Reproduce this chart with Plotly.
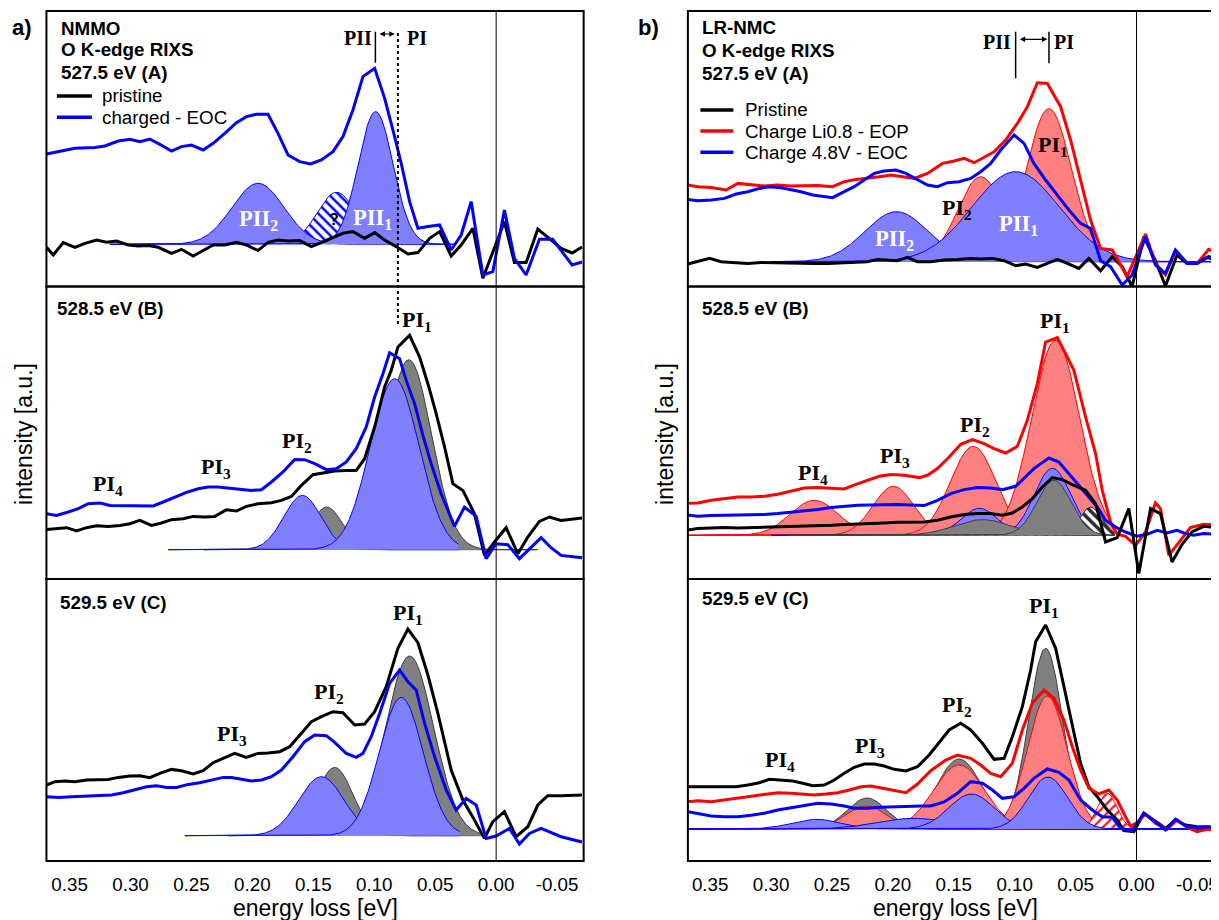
import numpy as np
import plotly.graph_objects as go

# the page body adds an 8px margin; the figure is sized and offset to compensate
OFF = 8
W, H = 1219 - OFF, 920 - OFF
SANS = "Liberation Sans, Arial, sans-serif"
SERIF = "Liberation Serif, Times New Roman, serif"

# ---------------- data: energy loss [eV] and intensity [a.u.] ----------------
# Panel a (NMMO), 527.5 eV (A)
a1_pristine_e = [0.3689,0.3634,0.3552,0.3456,0.3374,0.3279,0.3197,0.3115,0.3019,0.2937,0.2855,0.2773,0.2664,0.2582,0.2486,0.2404,0.2322,0.2227,0.2131,0.2049,0.1954,0.1872,0.1790,0.1708,0.1612,0.1516,0.1434,0.1352,0.1257,0.1175,0.1079,0.0997,0.0915,0.0820,0.0724,0.0642,0.0546,0.0464,0.0369,0.0287,0.0191,0.0109,-0.0068,-0.0150,-0.0246,-0.0342,-0.0437,-0.0533,-0.0623,-0.0705]
a1_pristine_i = [-3,-10.7,1.7,-3,1,4.3,2,3.3,-0.7,-1.7,-1.3,-3,-9,-5,-11.7,-6.3,-0.7,-0.7,2,-0.7,-6.3,2,4.3,3.3,3.7,-2.3,2,6.7,11,12.7,6,11.7,4.3,-2.3,-9.7,-8.3,6,12.7,-11.7,-0.7,16,-34,22.7,-18.3,-18.3,15.3,6,-4,-8.7,-2.7]
a1_charged_e = [0.3689,0.3593,0.3456,0.3292,0.3210,0.3101,0.3005,0.2923,0.2842,0.2760,0.2664,0.2582,0.2500,0.2404,0.2322,0.2227,0.2131,0.2049,0.1967,0.1872,0.1790,0.1708,0.1612,0.1522,0.1434,0.1339,0.1257,0.1175,0.1093,0.0997,0.0915,0.0833,0.0779,0.0710,0.0642,0.0560,0.0464,0.0369,0.0287,0.0205,0.0109,0.0027,-0.0068,-0.0150,-0.0246,-0.0355,-0.0464,-0.0623,-0.0705]
a1_charged_i = [90.3,92.7,96,96.7,98.3,103.3,105,102.7,105.3,100,93.3,97.7,99.3,94.3,101,111,121.7,127.7,130,130,111,89.3,82.7,80.3,84.3,92.7,107.7,134.3,167.7,176,146,107.7,81,42.7,16,17.7,19.3,-5.7,9.3,42.7,-30.7,-27.3,34.3,-14,-30.7,5,5,-20.7,-17.7]
# fit components: (centre, height, sigma)
a1_fits = {"PII?": (0.131, 52, 0.016), "PII2": (0.1954, 61, 0.0213), "PII1": (0.0989, 132.7, 0.0143)}
a1_fit_range = (0.317, 0.034)

# Panel a, 528.5 eV (B)
a2_pristine_e = [0.3689,0.3607,0.3525,0.3443,0.3361,0.3279,0.3183,0.3087,0.3005,0.2923,0.2828,0.2746,0.2664,0.2568,0.2486,0.2391,0.2309,0.2213,0.2131,0.2049,0.1954,0.1844,0.1762,0.1680,0.1598,0.1503,0.1407,0.1325,0.1230,0.1148,0.1079,0.0997,0.0915,0.0861,0.0806,0.0710,0.0628,0.0560,0.0492,0.0423,0.0355,0.0273,0.0178,0.0096,0.0014,-0.0082,-0.0178,-0.0260,-0.0355,-0.0437,-0.0533,-0.0705]
a2_pristine_i = [20.3,21,22,18.7,22,24,23.3,24.3,26,29.3,24.3,26.7,30,31,33.3,32.7,33.3,40,38.7,43.3,46,47,49.3,53.3,64.3,75,76.7,78.7,79.3,79.3,91,122.7,162.7,179.3,202.7,214.3,192.7,166,136,102.7,66,59.3,36,-5.7,7.7,22,-4,12.7,28.3,32.7,29.3,31.7]
a2_charged_e = [0.3689,0.3607,0.3511,0.3429,0.3347,0.3251,0.3169,0.3074,0.2992,0.2896,0.2814,0.2732,0.2637,0.2541,0.2445,0.2363,0.2281,0.2186,0.2090,0.2008,0.1926,0.1844,0.1749,0.1653,0.1571,0.1489,0.1393,0.1311,0.1230,0.1148,0.1066,0.0997,0.0929,0.0874,0.0792,0.0738,0.0669,0.0601,0.0533,0.0451,0.0342,0.0260,0.0164,0.0082,0,-0.0096,-0.0191,-0.0273,-0.0369,-0.0451,-0.0533,-0.0705]
a2_charged_i = [36,34.3,37.7,41,46,46.7,44.3,44,43.7,43.3,43.7,47.7,52.7,57.3,61,62.7,62.7,61.7,60.3,59.3,60,67.7,77.7,90.3,90,86,80,81,87.7,101,122.7,152.7,176,197,191,169.3,146,114.3,86,56,23.3,42.7,33.3,-9,6,5,-9,1,12,2,-5.7,-8]
a2_fits_pristine = {"PI2": (0.139, 42.7, 0.013), "PI1": (0.0716, 190, 0.0186)}
a2_fits_charged = {"PI2": (0.159, 54.3, 0.0153), "PI1": (0.0833, 171, 0.020)}
a2_range_pristine = (0.24, -0.034)
a2_range_charged = (0.269, 0.031)

# Panel a, 529.5 eV (C)
a3_pristine_e = [0.3689,0.3620,0.3538,0.3456,0.3361,0.3279,0.3183,0.3101,0.3005,0.2923,0.2842,0.2760,0.2664,0.2582,0.2486,0.2404,0.2322,0.2227,0.2145,0.2049,0.1954,0.1872,0.1776,0.1694,0.1612,0.1516,0.1434,0.1339,0.1257,0.1161,0.1079,0.0997,0.0902,0.0806,0.0724,0.0642,0.0560,0.0478,0.0369,0.0273,0.0178,0.0096,0.0027,-0.0068,-0.0164,-0.0260,-0.0342,-0.0423,-0.0533,-0.0705]
a3_pristine_i = [50.7,54,54.7,54,55.7,55.7,56.3,58.3,59.7,60,58,62.3,66.3,65,61.7,65,73,78,82.3,78.3,82.3,82.7,84,89,100.7,114,119,124,123,110.7,111.7,124,149,187.3,206.7,193,160.7,122.3,65.7,35.7,15.7,-2.7,14,24,-1,9,30.7,40,40,40.7]
a3_charged_e = [0.3689,0.3593,0.3484,0.3374,0.3265,0.3156,0.3060,0.2964,0.2869,0.2787,0.2705,0.2623,0.2527,0.2432,0.2336,0.2240,0.2172,0.2090,0.2008,0.1926,0.1844,0.1762,0.1667,0.1571,0.1489,0.1393,0.1325,0.1230,0.1148,0.1093,0.1025,0.0956,0.0874,0.0792,0.0724,0.0656,0.0587,0.0505,0.0410,0.0328,0.0246,0.0164,0.0082,0,-0.0109,-0.0191,-0.0273,-0.0369,-0.0451,-0.0533,-0.0705]
a3_charged_i = [39,38.3,39,39.7,40.3,40.7,43,46.3,49,50,48.3,48.3,51.3,53,55.7,58.3,58.3,56.7,54.7,55.7,59,65.7,79,94,100.7,100,93.3,82.3,78.3,82.3,99,122.3,152.3,165.7,154,145.7,112.3,79,45.7,25.7,37.3,30.7,-2.7,-0.3,7.3,-8.3,2.3,7.3,3,-1,-6.3]
a3_fits_pristine = {"PI2": (0.1325, 68.3, 0.015), "PI1": (0.071, 179.7, 0.0197)}
a3_fits_charged = {"PI2": (0.1434, 59, 0.0186), "PI1": (0.0779, 138.3, 0.018)}
a3_range_pristine = (0.22, 0.012)
a3_range_charged = (0.2555, 0.03)

# Panel b (LR-NMC), 527.5 eV (A)
b1_pristine_e = [0.3683,0.3601,0.3505,0.3410,0.3301,0.3191,0.3082,0.2973,0.2863,0.2754,0.2645,0.2536,0.2426,0.2317,0.2208,0.2126,0.2044,0.1962,0.1880,0.1798,0.1689,0.1579,0.1470,0.1361,0.1279,0.1183,0.1087,0.0992,0.0910,0.0814,0.0732,0.0650,0.0568,0.0473,0.0391,0.0295,0.0199,0.0117,0.0036,-0.0060,-0.0156,-0.0238,-0.0333,-0.0415,-0.0497,-0.0593,-0.0661]
b1_pristine_i = [-2.3,0,3.3,0,-1,-1.7,-0.7,-1,-1.7,-1.7,-1.7,-1.7,-1,-0.7,0,2.3,1.7,1,4.3,0,0,1.7,2.3,3.3,2.7,3.3,1,-4,-2.3,-5.7,-1.7,2.3,-1.7,-6.7,3.3,-9,5,-5,-25,25,1,-24.3,6.7,-1.7,-1.7,5,3.3]
b1_eop_e = [0.3683,0.3601,0.3492,0.3369,0.3273,0.3164,0.3055,0.2945,0.2836,0.2727,0.2617,0.2495,0.2399,0.2303,0.2208,0.2112,0.2016,0.1921,0.1825,0.1716,0.1593,0.1497,0.1415,0.1333,0.1251,0.1169,0.1074,0.0978,0.0896,0.0814,0.0732,0.0623,0.0541,0.0459,0.0377,0.0295,0.0199,0.0145,0.0077,-0.0074,-0.0156,-0.0238,-0.0320,-0.0415,-0.0497,-0.0593,-0.0661]
b1_eop_i = [76.7,75,74.3,71.7,78.3,76.7,75.7,76.7,75.7,76,76.3,75,80,82.3,83.3,85,86.7,85,83.3,88.3,98.3,100.7,103.3,99,104.3,110,121.7,138.3,155,179,178.3,155,121.7,81.7,41.7,13.3,11.7,0,-15,27.7,-1.7,-13.3,11,-1,-1.7,12.3,9]
b1_eoc_e = [0.3683,0.3601,0.3492,0.3383,0.3287,0.3191,0.3096,0.3014,0.2918,0.2836,0.2754,0.2658,0.2577,0.2495,0.2399,0.2317,0.2235,0.2153,0.2071,0.1975,0.1893,0.1811,0.1716,0.1634,0.1552,0.1456,0.1361,0.1279,0.1197,0.1115,0.1005,0.0923,0.0842,0.0746,0.0650,0.0555,0.0459,0.0377,0.0295,0.0213,0.0117,0.0036,-0.0074,-0.0156,-0.0238,-0.0320,-0.0415,-0.0497,-0.0579,-0.0661]
b1_eoc_i = [62.3,61,61.7,63.3,67.7,70,73.3,75,74,72.3,70,66.7,65.7,64,70,75,81.7,88.3,90.7,91.7,88.3,83.3,76.7,75,79,80,83.3,90,98.3,111.7,126.7,118.3,98.3,81.7,66.7,51.7,38.3,33.3,1,-5,-23.3,-13.3,25,-3.3,-11.7,11.7,-1.7,-1.7,4.3,1]
b1_fits_eop = {"PI2": (0.1279, 85, 0.019), "PI1": (0.0719, 153, 0.0186)}
b1_fits_eoc = {"PII2": (0.197, 50, 0.026), "PII1": (0.0992, 90, 0.036)}
b1_fit_range = (0.30, -0.0661)

# Panel b, 528.5 eV (B)
b2_pristine_e = [0.3683,0.3601,0.3492,0.3383,0.3273,0.3164,0.3055,0.2945,0.2836,0.2727,0.2617,0.2508,0.2399,0.2290,0.2180,0.2071,0.1962,0.1852,0.1743,0.1634,0.1525,0.1415,0.1306,0.1197,0.1101,0.1019,0.0937,0.0855,0.0773,0.0691,0.0609,0.0514,0.0418,0.0336,0.0254,0.0158,0.0063,-0.0019,-0.0115,-0.0197,-0.0292,-0.0374,-0.0456,-0.0552,-0.0661]
b2_pristine_i = [5.3,6.7,7.3,7.7,7.3,7.7,7.7,8,8.3,9,9.7,10,10.7,11,11.7,12.3,13,13.3,13.3,15,18.3,20.7,21.7,21.7,20,22.3,28.3,36.7,48.3,57.7,55.7,50,45,31.7,-6.7,-2.3,26.7,-38.3,26.7,21.7,-26.7,-9,3.3,9,7.7]
b2_eop_e = [0.3683,0.3601,0.3492,0.3383,0.3273,0.3164,0.3055,0.2945,0.2836,0.2727,0.2617,0.2508,0.2399,0.2303,0.2208,0.2112,0.2016,0.1907,0.1784,0.1716,0.1634,0.1538,0.1443,0.1347,0.1251,0.1169,0.1074,0.0978,0.0896,0.0814,0.0746,0.0650,0.0582,0.0514,0.0418,0.0336,0.0281,0.0213,0.0158,0.0090,0.0008,-0.0074,-0.0156,-0.0197,-0.0265,-0.0361,-0.0443,-0.0552,-0.0661]
b2_eop_i = [32,32.3,35,36.7,38.3,38.3,39,41,44.3,47.3,47.7,47,46.3,51,55,59,60.7,60,57.7,60,66.7,78.3,91,95.7,91.7,86.7,82.3,89,115,151.7,193.3,197.7,181.7,165,118.3,81.7,45,13.3,1,-1,-10,3.3,32.3,26.7,-20,-5,7.7,11,10]
b2_eoc_e = [0.3683,0.3601,0.3492,0.3383,0.3273,0.3164,0.3055,0.2945,0.2836,0.2727,0.2617,0.2508,0.2399,0.2290,0.2180,0.2071,0.1962,0.1852,0.1743,0.1634,0.1525,0.1415,0.1306,0.1197,0.1101,0.0992,0.0923,0.0842,0.0773,0.0719,0.0637,0.0568,0.0486,0.0404,0.0322,0.0254,0.0172,0.0090,-0.0005,-0.0087,-0.0169,-0.0251,-0.0333,-0.0402,-0.0470,-0.0552,-0.0661]
b2_eoc_i = [20.3,19,19.7,20,20,20.3,20.7,21.7,23,24.3,25.7,27.7,29,30,30.3,30.7,30.7,30.3,29.7,35,41.7,45.7,47.7,47.3,45.7,49,56.7,66.7,72.7,77.3,73.3,63.3,51.7,40,28.3,15,8.3,3.3,-1,1,5,2.3,5,1.7,0,1.7,1]
b2_fits_eop = {"PI4": (0.2645, 35, 0.0197), "PI3": (0.1995, 49, 0.0168), "PI2": (0.134, 89, 0.0186), "PI1": (0.0664, 195, 0.0197)}
b2_fits_eoc = {"PI2": (0.129, 27, 0.015), "PI1": (0.069, 67, 0.015)}
b2_fits_pristine = {"PI0": (0.0377, 28, 0.009), "PI2": (0.1265, 15.7, 0.023), "PI1": (0.0678, 55, 0.014)}
b2_range_eop = (0.3683, 0.018)
b2_range_eoc = (0.30, 0.018)
b2_range_pristine = (0.286, 0.018)

# Panel b, 529.5 eV (C)
b3_pristine_e = [0.3683,0.3601,0.3492,0.3383,0.3287,0.3191,0.3096,0.3014,0.2918,0.2822,0.2740,0.2658,0.2563,0.2481,0.2399,0.2317,0.2235,0.2153,0.2071,0.1989,0.1893,0.1798,0.1702,0.1620,0.1538,0.1443,0.1361,0.1265,0.1169,0.1087,0.1019,0.0937,0.0869,0.0828,0.0746,0.0664,0.0596,0.0527,0.0459,0.0391,0.0322,0.0240,0.0158,0.0104,0.0022,-0.0060,-0.0142,-0.0238,-0.0320,-0.0402,-0.0497,-0.0579,-0.0661]
b3_pristine_i = [42.3,42.3,42.3,43,42.3,44,46.3,49.7,49,48,45.7,43.3,44,49,55.7,61.7,65,65,63,59.7,58,62.3,74,86.3,99,105.7,99,85.7,69.7,70.7,92.3,122.3,159,187.3,204,180.7,142.3,102.3,65.7,42.3,32.3,19,9,-1.7,-2.7,15.7,9,0.7,9,4,2.3,2.3,1.7]
b3_eop_e = [0.3683,0.3601,0.3492,0.3383,0.3273,0.3164,0.3055,0.2945,0.2836,0.2740,0.2645,0.2549,0.2454,0.2358,0.2262,0.2180,0.2085,0.1989,0.1893,0.1798,0.1689,0.1566,0.1470,0.1361,0.1279,0.1197,0.1115,0.1019,0.0937,0.0855,0.0760,0.0678,0.0596,0.0527,0.0459,0.0391,0.0309,0.0227,0.0158,0.0090,0.0049,-0.0005,-0.0074,-0.0156,-0.0251,-0.0333,-0.0415,-0.0497,-0.0579,-0.0661]
b3_eop_i = [27.3,28.3,27.3,29,30.7,32.3,34.7,36.3,35.7,34.7,34,35,36.3,39,42.3,43,40.7,38.3,36.3,45,58.3,69,74,70.7,64,55.7,52.3,65.7,99,125.7,139,130.7,109,82.3,59,40.7,35,39,29,12.3,3,6.3,15,5.7,-0.3,9,1.7,-2.7,-0.3,-1.7]
b3_eoc_e = [0.3683,0.3601,0.3492,0.3383,0.3273,0.3164,0.3055,0.2945,0.2836,0.2727,0.2617,0.2508,0.2399,0.2317,0.2208,0.2098,0.1989,0.1880,0.1770,0.1689,0.1579,0.1470,0.1361,0.1265,0.1183,0.1101,0.1005,0.0923,0.0842,0.0732,0.0637,0.0555,0.0459,0.0363,0.0281,0.0199,0.0131,0.0036,-0.0060,-0.0142,-0.0238,-0.0320,-0.0415,-0.0497,-0.0579,-0.0661]
b3_eoc_i = [17.3,15.7,13,12.3,12.3,13.7,15.7,19,21.3,24,25.7,25,23,20.7,20.7,21.7,22.3,23,23,23,27,35.7,47.3,45.7,39,30.7,32.3,40.7,50.7,60,56.7,49,29,19,12.3,11.7,0.7,-1.7,15.7,8.3,-1,9.7,2.3,1.7,2.3,0.7]
b3_fits_pristine = {"PI3": (0.2213, 31, 0.0163), "PI2": (0.1456, 70, 0.019), "PI1": (0.0746, 180.7, 0.014)}
b3_fits_eop = {"PI3": (0.222, 23, 0.017), "PI2": (0.1456, 64, 0.021), "PI1": (0.0732, 133, 0.0163), "PI0": (0.024, 35.7, 0.008)}
b3_fits_eoc = {"PI4": (0.263, 9.7, 0.02), "PI3": (0.1825, 10.7, 0.03), "PI2": (0.1355, 35, 0.0186), "PI1": (0.0727, 52, 0.016)}
b3_fit_range = (0.3683, -0.0661)

tick_vals = [0.35, 0.30, 0.25, 0.20, 0.15, 0.10, 0.05, 0.00, -0.05]
tick_text = ["0.35", "0.30", "0.25", "0.20", "0.15", "0.10", "0.05", "0.00", "-0.05"]

# ---------------- layout geometry (in page pixels) ----------------
def px(x):
    return (x - OFF) / W

def py(y):
    return 1 - (y - OFF) / H

COLS = {"a": (46.5, 584.6), "b": (689.0, 1219.0)}
XRANGE = {"a": [0.369, -0.0718], "b": [0.3683, -0.0661]}
ROWS = [(11.0, 286.5), (286.5, 579.0), (579.0, 861.0)]
YRANGE = {1: [-42.2, 233.3], 2: [-29.3, 263.2], 3: [-25.3, 256.7],
          4: [-24.8, 250.7], 5: [-43.7, 248.8], 6: [-32.0, 250.0]}

BLACK, BLUE, RED = "rgb(0,0,0)", "rgb(0,0,255)", "rgb(255,0,0)"
STY = {
    "blue": dict(line=BLUE, fill="rgb(128,128,255)"),
    "red": dict(line=RED, fill="rgb(255,128,128)"),
    "gray": dict(line="rgb(60,60,60)", fill="rgb(128,128,128)"),
}

fig = go.Figure()
layout = dict(width=W, height=H, margin=dict(l=0, r=0, t=0, b=0),
              paper_bgcolor="white", plot_bgcolor="white", showlegend=False,
              font=dict(family=SANS, color="black"))

for n in range(1, 7):
    col = "a" if n <= 3 else "b"
    row = (n - 1) % 3
    sx = "" if n == 1 else str(n)
    x0, x1 = COLS[col]
    top, bot = ROWS[row]
    layout["xaxis" + sx] = dict(domain=[max(0, px(x0)), min(1, px(x1))], range=XRANGE[col],
                                anchor="y" + sx,
                                showgrid=False, zeroline=False, showline=False,
                                tickvals=tick_vals, ticktext=tick_text,
                                showticklabels=(row == 2), ticks="outside" if row == 2 else "",
                                ticklen=6, tickcolor="rgba(0,0,0,0)",
                                ticklabeloverflow="allow",
                                tickfont=dict(family=SANS, size=18.8, color="black"))
    layout["yaxis" + sx] = dict(domain=[py(bot), py(top)], range=YRANGE[n], anchor="x" + sx,
                                showgrid=False, zeroline=False, showline=False,
                                showticklabels=False, ticks="")


def ax(n):
    s = "" if n == 1 else str(n)
    return "x" + s, "y" + s


def fit(n, params, rng, style, pattern=None):
    c, h, s = params
    e = np.linspace(rng[0], rng[1], 400)
    y = h * np.exp(-0.5 * ((e - c) / s) ** 2)
    xa, ya = ax(n)
    kw = dict(x=e, y=y, xaxis=xa, yaxis=ya, mode="lines", fill="tozeroy",
              hoverinfo="skip")
    if pattern is None:
        kw.update(line=dict(color=STY[style]["line"], width=1), fillcolor=STY[style]["fill"])
    else:
        shape, fg, solid = pattern
        kw.update(line=dict(color=fg, width=1), fillcolor="white",
                  fillpattern=dict(shape=shape, fgcolor=fg, bgcolor="white",
                                   size=7, solidity=solid, fillmode="replace"))
    fig.add_trace(go.Scatter(**kw))


def curve(n, e, i, color, name):
    xa, ya = ax(n)
    fig.add_trace(go.Scatter(x=e, y=i, xaxis=xa, yaxis=ya, mode="lines", name=name,
                             line=dict(color=color, width=3)))

# panel a row 1
fit(1, a1_fits["PII?"], a1_fit_range, "blue", pattern=("\\", BLUE, 0.35))
fit(1, a1_fits["PII2"], a1_fit_range, "blue")
fit(1, a1_fits["PII1"], a1_fit_range, "blue")
curve(1, a1_pristine_e, a1_pristine_i, BLACK, "pristine")
curve(1, a1_charged_e, a1_charged_i, BLUE, "charged - EOC")
# panel a row 2
fit(2, a2_fits_pristine["PI2"], a2_range_pristine, "gray")
fit(2, a2_fits_pristine["PI1"], a2_range_pristine, "gray")
fit(2, a2_fits_charged["PI2"], a2_range_charged, "blue")
fit(2, a2_fits_charged["PI1"], a2_range_charged, "blue")
curve(2, a2_pristine_e, a2_pristine_i, BLACK, "pristine")
curve(2, a2_charged_e, a2_charged_i, BLUE, "charged - EOC")
# panel a row 3
fit(3, a3_fits_pristine["PI2"], a3_range_pristine, "gray")
fit(3, a3_fits_pristine["PI1"], a3_range_pristine, "gray")
fit(3, a3_fits_charged["PI2"], a3_range_charged, "blue")
fit(3, a3_fits_charged["PI1"], a3_range_charged, "blue")
curve(3, a3_pristine_e, a3_pristine_i, BLACK, "pristine")
curve(3, a3_charged_e, a3_charged_i, BLUE, "charged - EOC")
# panel b row 1
fit(4, b1_fits_eop["PI2"], b1_fit_range, "red")
fit(4, b1_fits_eop["PI1"], b1_fit_range, "red")
fit(4, b1_fits_eoc["PII2"], b1_fit_range, "blue")
fit(4, b1_fits_eoc["PII1"], b1_fit_range, "blue")
curve(4, b1_pristine_e, b1_pristine_i, BLACK, "Pristine")
curve(4, b1_eop_e, b1_eop_i, RED, "Charge Li0.8 - EOP")
curve(4, b1_eoc_e, b1_eoc_i, BLUE, "Charge 4.8V - EOC")
# panel b row 2
for k in ["PI4", "PI3", "PI2", "PI1"]:
    fit(5, b2_fits_eop[k], b2_range_eop, "red")
for k in ["PI2", "PI1"]:
    fit(5, b2_fits_eoc[k], b2_range_eoc, "blue")
fit(5, b2_fits_pristine["PI0"], b2_range_pristine, "gray", pattern=("\\", "rgb(40,40,40)", 0.5))
fit(5, b2_fits_pristine["PI2"], b2_range_pristine, "gray")
fit(5, b2_fits_pristine["PI1"], b2_range_pristine, "gray")
curve(5, b2_eop_e, b2_eop_i, RED, "Charge Li0.8 - EOP")
curve(5, b2_eoc_e, b2_eoc_i, BLUE, "Charge 4.8V - EOC")
curve(5, b2_pristine_e, b2_pristine_i, BLACK, "Pristine")
# panel b row 3
for k in ["PI3", "PI2", "PI1"]:
    fit(6, b3_fits_pristine[k], b3_fit_range, "gray")
for k in ["PI3", "PI2", "PI1"]:
    fit(6, b3_fits_eop[k], b3_fit_range, "red")
fit(6, b3_fits_eop["PI0"], (0.06, -0.01), "red", pattern=("/", RED, 0.3))
for k in ["PI4", "PI3", "PI2", "PI1"]:
    fit(6, b3_fits_eoc[k], b3_fit_range, "blue")
curve(6, b3_pristine_e, b3_pristine_i, BLACK, "Pristine")
curve(6, b3_eop_e, b3_eop_i, RED, "Charge Li0.8 - EOP")
curve(6, b3_eoc_e, b3_eoc_i, BLUE, "Charge 4.8V - EOC")

# ---------------- shapes ----------------
shapes = []
for n in range(1, 7):
    xa, ya = ax(n)
    shapes.append(dict(type="line", xref=xa, x0=0, x1=0, yref=ya + " domain", y0=0, y1=1,
                       line=dict(color="black", width=1)))
for col, (x0, x1) in COLS.items():
    if col == "b":
        x1 = 1226
    for top, bot in ROWS:
        shapes.append(dict(type="rect", xref="paper", yref="paper", x0=px(x0), x1=px(x1),
                           y0=py(bot), y1=py(top), line=dict(color="black", width=2),
                           fillcolor="rgba(0,0,0,0)"))
# dotted PI/PII separator (panel a)
shapes.append(dict(type="line", xref="x", x0=0.0806, x1=0.0806, yref="paper",
                   y0=py(324), y1=py(30), line=dict(color="black", width=2, dash="dot")))
# PII / PI markers
for (x, y0, y1) in [(376, 31.7, 62.7), (1017.3, 31.7, 78.3), (1050.7, 31.7, 63.3)]:
    shapes.append(dict(type="line", xref="paper", yref="paper", x0=px(x), x1=px(x),
                       y0=py(y1), y1=py(y0), line=dict(color="black", width=1.5)))
# legend swatches
for (x0, x1, y, c) in [(57, 92, 96, BLACK), (57, 92, 117.3, BLUE),
                       (701.5, 734.6, 110, BLACK), (701.5, 734.6, 131, RED),
                       (701.5, 734.6, 152.3, BLUE)]:
    shapes.append(dict(type="line", xref="paper", yref="paper", x0=px(x0), x1=px(x1),
                       y0=py(y), y1=py(y), line=dict(color=c, width=3.5)))
layout["shapes"] = shapes

# ---------------- annotations ----------------
anns = []

def ann(x, y, text, size, family=SANS, color="black", xanchor="center", angle=0):
    anns.append(dict(x=px(x), y=py(y), xref="paper", yref="paper", text=text, showarrow=False,
                     xanchor=xanchor, yanchor="middle", textangle=angle,
                     font=dict(family=family, size=size, color=color)))

ann(22.5, 28, "<b>a)</b>", 22)
ann(650, 28, "<b>b)</b>", 22)
for (x, y, t) in [(59, 28.3, "NMMO"), (59, 50, "O K-edge RIXS"), (59, 72.7, "527.5 eV (A)"),
                  (55.3, 308.7, "528.5 eV (B)"), (58, 602.7, "529.5 eV (C)"),
                  (701, 28, "LR-NMC"), (701, 50.7, "O K-edge RIXS"), (701, 73, "527.5 eV (A)"),
                  (701, 308.7, "528.5 eV (B)"), (701, 598.3, "529.5 eV (C)")]:
    ann(x, y, "<b>" + t + "</b>", 18.8, xanchor="left")
for (x, y, t) in [(100, 96, "pristine"), (100, 117.3, "charged - EOC"),
                  (744, 110, "Pristine"), (744, 131, "Charge Li0.8 - EOP"),
                  (744, 152.3, "Charge 4.8V - EOC")]:
    ann(x, y, t, 18.8, xanchor="left")
# PII / PI headers
for (x, y, t) in [(358.3, 38.3, "PII"), (417.5, 38.3, "PI"), (999, 41.7, "PII"), (1066, 41.7, "PI")]:
    ann(x, y, "<b>" + t + "</b>", 20, SERIF)
# peak labels
for (x, y, t) in [(418, 321, "PI<sub>1</sub>"), (297.7, 442, "PI<sub>2</sub>"),
                  (216, 468, "PI<sub>3</sub>"), (108, 485, "PI<sub>4</sub>"),
                  (409, 614, "PI<sub>1</sub>"), (330, 693, "PI<sub>2</sub>"),
                  (232, 735, "PI<sub>3</sub>"),
                  (1055, 146, "PI<sub>1</sub>"), (959, 209, "PI<sub>2</sub>"),
                  (1057, 322, "PI<sub>1</sub>"), (977, 426, "PI<sub>2</sub>"),
                  (896, 457, "PI<sub>3</sub>"), (814, 474, "PI<sub>4</sub>"),
                  (1046, 607, "PI<sub>1</sub>"), (959, 706, "PI<sub>2</sub>"),
                  (871, 747, "PI<sub>3</sub>"), (781, 761, "PI<sub>4</sub>")]:
    ann(x, y, "<b>" + t + "</b>", 22, SERIF)
for (x, y, t) in [(258.7, 220, "PII<sub>2</sub>"), (373, 219, "PII<sub>1</sub>"),
                  (1020, 225, "PII<sub>1</sub>"), (896, 240, "PII<sub>2</sub>")]:
    ann(x, y, "<b>" + t + "</b>", 22.5, SERIF, color="white")
ann(334.7, 220, "<b>?</b>", 16)
# axis titles
ann(316, 908, "energy loss [eV]", 23)
ann(957, 908, "energy loss [eV]", 23)
ann(24, 434, "intensity [a.u.]", 23, angle=-90)
ann(666, 434, "intensity [a.u.]", 23, angle=-90)
# double arrows
for (x, y, dx) in [(395.3, 34, -16.6), (1049, 39.3, -29)]:
    anns.append(dict(x=px(x), y=py(y), xref="paper", yref="paper", ax=dx, ay=0,
                     axref="pixel", ayref="pixel", text="", showarrow=True,
                     arrowside="end+start", arrowhead=2, startarrowhead=2,
                     arrowsize=0.9, startarrowsize=0.9, arrowwidth=1.2, arrowcolor="black",
                     standoff=0, startstandoff=0))
layout["annotations"] = anns

fig.update_layout(**layout)
fig.write_html("out.html")
